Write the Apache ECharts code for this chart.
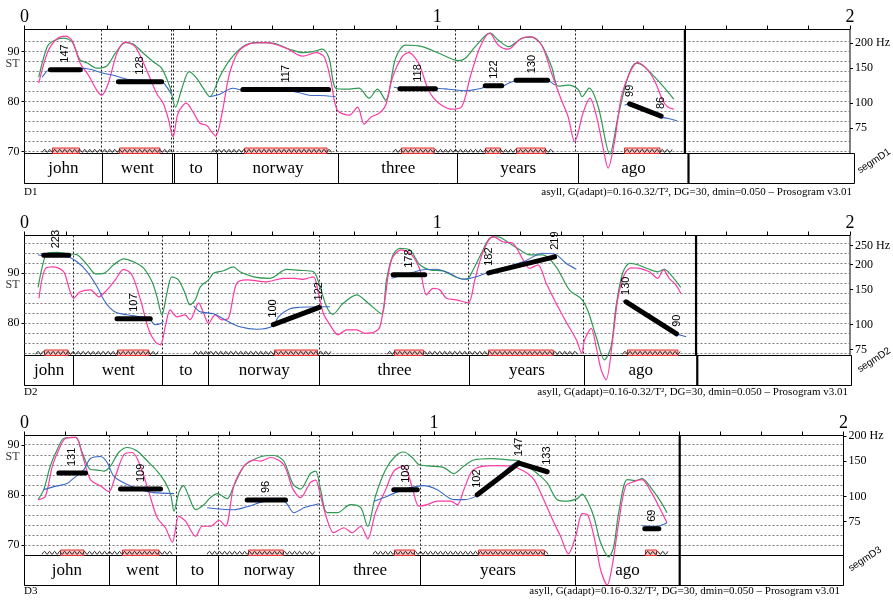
<!DOCTYPE html>
<html><head><meta charset="utf-8">
<script src="https://cdn.jsdelivr.net/npm/echarts@6/dist/echarts.min.js"></script>
<style>html,body{margin:0;padding:0;background:#fff}#c{width:893px;height:603px}</style>
</head><body><div id="c"></div>
<script>
// ---------------- DATA ----------------
const words = ['john','went','to','norway','three','years','ago'];
const timeTicks = ['0','1','2'];

const p1WordStart = [0, 0.1875, 0.362, 0.465, 0.757, 1.044, 1.335];
const p1WordEnd   = [0.1875, 0.356, 0.465, 0.757, 1.044, 1.335, 1.6];
const p2WordStart = [0, 0.119, 0.3345, 0.4457, 0.714, 1.076, 1.354];
const p2WordEnd   = [0.119, 0.3345, 0.4457, 0.714, 1.076, 1.354, 1.627];
const p3WordStart = [0, 0.207, 0.370, 0.4745, 0.721, 0.967, 1.3455];
const p3WordEnd   = [0.207, 0.370, 0.4745, 0.721, 0.967, 1.3455, 1.6];
const signalEnd = [1.6, 1.627, 1.6];

const p1GridST = [70,72,74,76,78,80,82,84,86,88,90,92];
const p2GridST = [74,76,78,80,82,84,86,88,90,92,94,96];
const p3GridST = [70,72,74,76,78,80,82,84,86,88,90];
const p1LeftTicks = [70,80,90];
const p2LeftTicks = [80,90];
const p3LeftTicks = [70,80,90];
const p1HzTicks = [75,100,150,200];
const p2HzTicks = [75,100,150,200,250];
const p3HzTicks = [75,100,150,200];

const p1Nuclei = [[.067,.132],[.23,.328],[.533,.733],[.914,.993],[1.118,1.154],[1.193,1.263],[1.454,1.54]];
const p1Voiced = [[.043,.36],[.453,.749],[.893,1.281],[1.454,1.575]];
const p2Nuclei = [[.049,.106],[.226,.302],[.605,.709],[.896,.966],[1.125,1.282],[1.46,1.582]];
const p2Voiced = [[.027,.329],[.409,.744],[.879,1.34],[1.449,1.594]];
const p3Nuclei = [[.088,.145],[.239,.328],[.548,.633],[.904,.953],[1.109,1.27],[1.516,1.543]];
const p3Voiced = [[.043,.362],[.446,.711],[.851,1.28],[1.516,1.571]];

// stylized pitch: [tStart, tEnd, HzStart, HzEnd, labels]
const p1Styl = [[.0627,.1351,147,147,'c'],[.2275,.3322,128,128,'c'],[.529,.7366,117,117,'c'],[.9095,.9956,118,118,'c'],[1.1163,1.1563,122,122,'c'],[1.191,1.2673,130,130,'c'],[1.4661,1.5423,99,86,'se']];
const p2Styl = [[.0467,.1071,223,223,'c'],[.2242,.3047,107,107,'c'],[.6029,.7141,100,122,'se'],[.8931,.9698,178,178,'c'],[1.1245,1.2842,182,219,'se'],[1.4576,1.5799,130,90,'se']];
const p3Styl = [[.0838,.149,131,131,'c'],[.2344,.3321,109,109,'c'],[.5438,.6374,96,96,'c'],[.9018,.959,108,108,'c'],[1.1055,1.2071,102,147,'se'],[1.2071,1.2764,147,133,'e'],[1.5148,1.549,69,69,'c']];

const GAP = ['-','-'];
const p1Green = [[.0345,84.9],[.055,91.0],[.071,92.2],[.095,92.7],[.115,92.0],[.135,88.3],[.151,87.8],[.175,86.7],[.2,87.2],[.22,89.7],[.244,91.8],[.264,91.5],[.288,89.7],[.312,88.0],[.332,86.7],[.352,83.0],[.366,78.9],[.38,82.3],[.399,86.0],[.417,84.7],[.433,82.7],[.449,81.0],[.473,85.0],[.497,88.3],[.529,91.0],[.561,91.8],[.601,91.7],[.642,90.5],[.674,89.8],[.698,90.0],[.722,90.5],[.738,88.7],[.754,82.7],[.782,82.5],[.81,82.7],[.835,80.7],[.855,82.5],[.875,80.3],[.899,88.7],[.923,91.3],[.963,91.0],[1.004,89.7],[1.052,88.2],[1.068,88.7],[1.092,91.0],[1.128,93.7],[1.148,92.3],[1.173,91.0],[1.205,92.7],[1.229,92.9],[1.253,91.3],[1.277,87.0],[1.293,83.1],[1.317,83.3],[1.341,82.5],[1.351,81.0],[1.368,82.7],[1.39,79.0],[1.418,69.5],[1.438,77.0],[1.462,85.0],[1.482,87.7],[1.502,87.0],[1.526,85.0],[1.551,82.7],[1.573,80.5]];
const p1Pink = [[.0345,83.7],[.055,89.7],[.075,92.3],[.099,93.1],[.115,92.3],[.135,87.7],[.155,85.3],[.175,82.3],[.187,81.3],[.203,83.7],[.224,89.7],[.244,91.9],[.268,91.0],[.296,86.3],[.32,81.7],[.336,79.7],[.348,76.7],[.36,73.0],[.372,77.7],[.392,79.7],[.408,78.0],[.425,75.7],[.441,75.3],[.453,74.0],[.463,73.1],[.477,77.0],[.497,85.7],[.521,90.3],[.553,91.7],[.586,91.8],[.634,90.7],[.674,89.1],[.706,89.8],[.726,89.0],[.742,84.3],[.758,78.3],[.787,77.3],[.807,78.9],[.823,75.5],[.839,76.9],[.859,77.7],[.875,79.3],[.891,84.7],[.915,89.0],[.931,89.8],[.955,87.7],[.979,82.3],[1.004,79.7],[1.036,78.5],[1.06,79.1],[1.08,85.0],[1.104,91.0],[1.127,93.7],[1.148,91.3],[1.172,90.5],[1.201,92.5],[1.225,93.0],[1.253,91.3],[1.277,85.7],[1.301,80.3],[1.317,77.0],[1.333,72.0],[1.341,73.7],[1.353,77.7],[1.37,80.7],[1.386,77.0],[1.402,70.7],[1.414,66.7],[1.43,72.3],[1.446,81.0],[1.466,85.7],[1.485,87.8],[1.506,86.7],[1.526,84.3],[1.546,80.3],[1.558,79.0],[1.573,78.5]];
const p1Blue = [[.0427,84.9],[.063,86.5],[.135,86.7],[.159,86.5],[.191,85.7],[.215,85.3],[.248,84.5],[.332,84.1],[.344,83.0],[.356,81.5],GAP,[.449,81.0],[.473,81.5],[.505,82.7],[.529,82.3],[.642,82.2],[.666,81.8],[.69,81.3],[.73,81.2],[.754,81.0],GAP,[.895,82.9],[.915,82.7],[.996,82.7],[1.028,82.5],[1.068,82.2],[1.108,82.7],[1.116,83.1],[1.157,83.1],[1.173,83.7],[1.197,84.3],[1.265,84.3],[1.285,83.3],GAP,[1.454,79.3],[1.466,79.7],[1.542,76.9],[1.558,76.7],[1.581,76.2]];

const p2Green = [[.033,87.2],[.043,91.3],[.055,94.0],[.079,94.2],[.103,93.9],[.127,93.7],[.152,91.7],[.172,89.9],[.192,90.0],[.216,91.7],[.24,92.9],[.264,92.3],[.289,91.0],[.309,88.3],[.321,85.3],[.333,81.7],[.345,86.0],[.357,89.3],[.373,88.7],[.389,86.0],[.401,83.7],[.414,84.7],[.426,87.3],[.446,88.7],[.458,90.0],[.482,90.5],[.506,91.3],[.522,90.3],[.555,89.3],[.595,89.0],[.635,90.8],[.667,90.6],[.7,90.3],[.716,87.3],[.732,83.3],[.747,81.8],[.772,84.0],[.805,85.7],[.833,84.0],[.865,81.9],[.877,88.7],[.893,93.7],[.909,95.0],[.933,94.7],[.958,91.7],[.982,90.7],[1.014,90.5],[1.046,89.2],[1.071,88.8],[1.087,90.7],[1.107,94.0],[1.127,97.0],[1.147,97.3],[1.175,96.0],[1.2,94.7],[1.224,93.7],[1.256,93.7],[1.288,91.3],[1.32,86.7],[1.35,84.8],[1.365,82.5],[1.385,77.3],[1.405,72.7],[1.421,75.3],[1.433,83.3],[1.449,90.0],[1.466,92.0],[1.486,91.7],[1.51,90.9],[1.534,90.3],[1.55,90.8],[1.566,89.7],[1.59,87.2]];
const p2Pink = [[.035,85.0],[.051,91.0],[.071,91.3],[.095,90.3],[.107,87.3],[.119,85.0],[.135,86.3],[.16,86.7],[.18,85.3],[.2,86.7],[.22,88.7],[.24,90.8],[.26,89.7],[.281,84.7],[.301,78.7],[.317,76.3],[.329,75.7],[.341,79.3],[.353,82.7],[.369,81.3],[.389,81.7],[.401,80.7],[.422,84.1],[.434,82.0],[.446,80.0],[.462,81.7],[.478,80.7],[.494,81.0],[.514,88.0],[.539,88.7],[.587,88.3],[.627,89.0],[.655,89.0],[.675,88.8],[.70,89.3],[.712,86.0],[.724,82.0],[.74,79.7],[.76,77.7],[.78,78.7],[.805,78.7],[.825,78.0],[.849,78.3],[.861,79.3],[.873,84.7],[.889,92.7],[.913,94.7],[.938,93.7],[.958,90.7],[.974,85.7],[.99,87.0],[1.006,86.7],[1.022,85.0],[1.046,84.7],[1.075,84.1],[1.091,88.7],[1.111,94.3],[1.135,97.4],[1.159,96.3],[1.183,96.0],[1.208,92.7],[1.224,91.0],[1.244,91.7],[1.264,88.0],[1.288,84.0],[1.312,80.3],[1.337,76.7],[1.35,74.0],[1.357,76.7],[1.373,79.0],[1.385,75.3],[1.397,70.7],[1.409,68.7],[1.425,76.7],[1.437,84.7],[1.453,89.7],[1.469,91.1],[1.49,91.0],[1.514,90.3],[1.534,89.0],[1.548,90.7],[1.562,89.0],[1.578,87.7],[1.59,86.0]];
const p2Blue = [[.033,93.7],[.047,93.5],[.103,93.3],[.127,92.3],[.152,90.3],[.176,87.3],[.192,84.7],[.208,83.0],[.224,82.1],[.248,81.7],[.301,80.9],[.317,79.7],[.329,79.9],[.337,80.5],GAP,[.41,83.5],[.426,82.3],[.458,81.9],[.49,80.5],[.522,79.3],[.563,78.8],[.603,79.5],[.615,81.3],[.643,82.9],[.667,83.2],[.716,83.3],[.74,83.3],GAP,[.889,89.0],[.933,90.0],[.966,90.7],[.998,90.8],[1.03,90.0],[1.062,88.8],[1.095,89.3],[1.127,90.3],[1.208,92.3],[1.256,94.0],[1.288,93.7],[1.312,92.0],[1.337,90.8],GAP,[1.449,84.5],[1.482,83.0],[1.546,80.0],[1.578,78.0],[1.603,77.3]];

const p3Green = [[.033,79.1],[.047,81.1],[.063,85.8],[.08,89.1],[.096,91.3],[.125,91.5],[.141,88.5],[.161,85.1],[.178,85.0],[.194,84.8],[.21,85.8],[.23,88.5],[.251,89.5],[.275,88.8],[.30,86.8],[.324,84.8],[.344,82.5],[.357,80.1],[.365,76.8],[.377,80.5],[.388,81.9],[.401,79.8],[.418,77.1],[.438,78.1],[.454,79.5],[.471,80.3],[.495,79.3],[.511,81.8],[.536,85.8],[.56,87.1],[.584,87.8],[.609,87.9],[.633,86.8],[.655,82.3],[.674,81.2],[.698,84.3],[.711,84.8],[.723,81.1],[.739,76.5],[.764,76.5],[.796,78.1],[.821,77.5],[.838,73.8],[.857,79.8],[.882,85.1],[.906,87.8],[.926,88.6],[.947,87.5],[.963,86.1],[.991,85.8],[1.024,85.5],[1.048,84.3],[1.073,85.8],[1.097,87.0],[1.138,87.3],[1.187,87.0],[1.207,86.8],[1.228,85.8],[1.252,84.3],[1.276,82.5],[1.301,79.1],[1.325,78.8],[1.35,79.3],[1.362,80.2],[1.376,78.6],[1.39,75.8],[1.407,70.5],[1.427,67.7],[1.439,69.8],[1.451,76.5],[1.472,83.1],[1.492,82.9],[1.508,83.3],[1.533,81.1],[1.553,78.8],[1.569,76.5]];
const p3Pink = [[.033,79.1],[.051,79.8],[.068,85.8],[.084,89.1],[.10,91.3],[.125,91.5],[.141,88.1],[.161,83.1],[.186,81.8],[.206,80.7],[.222,83.8],[.243,88.1],[.263,88.5],[.283,85.8],[.304,80.5],[.324,75.5],[.344,73.5],[.361,70.6],[.377,75.8],[.393,74.8],[.418,71.8],[.434,73.8],[.454,73.8],[.475,75.0],[.491,73.8],[.511,81.8],[.536,85.8],[.56,87.0],[.576,86.8],[.601,87.5],[.633,86.1],[.655,81.3],[.674,79.5],[.698,82.5],[.711,83.0],[.723,79.8],[.739,75.1],[.755,72.5],[.78,73.5],[.80,72.5],[.821,73.8],[.838,71.3],[.857,76.5],[.882,81.1],[.902,84.8],[.926,85.8],[.947,81.5],[.963,77.8],[.983,78.1],[1.008,78.8],[1.04,78.8],[1.057,78.1],[1.073,81.1],[1.093,84.8],[1.122,85.8],[1.154,85.9],[1.187,85.8],[1.219,84.8],[1.244,83.1],[1.268,79.1],[1.293,74.5],[1.309,71.8],[1.328,68.3],[1.346,71.8],[1.362,76.3],[1.376,76.0],[1.394,70.5],[1.407,65.1],[1.423,62.1],[1.435,65.8],[1.451,74.5],[1.468,81.8],[1.488,82.7],[1.508,83.1],[1.529,80.8],[1.549,77.8],[1.569,74.5]];
const p3Blue = [[.047,81.1],[.072,81.7],[.104,82.3],[.116,83.1],[.145,85.1],[.161,87.3],[.186,87.7],[.202,86.5],[.218,83.8],[.251,82.1],[.283,81.1],[.316,80.5],[.365,80.3],GAP,[.446,77.5],[.511,77.1],[.544,77.7],[.593,78.8],[.633,78.8],[.658,76.5],[.674,77.1],[.682,77.5],[.719,78.3],GAP,[.853,78.8],[.886,79.8],[.91,80.6],[.943,81.5],[.975,81.9],[1.008,81.1],[1.048,79.1],[1.073,79.1],[1.105,79.9],[1.154,83.1],[1.203,86.5],[1.236,85.8],[1.272,84.6],GAP,[1.508,73.9],[1.545,73.8],[1.569,74.5]];

// ---------------- LAYOUT / STYLE ----------------
const ST = hz => 12 * Math.log2(hz);
const SERIF = '"Liberation Serif", "DejaVu Serif", serif';
const SANS = '"Liberation Sans", Arial, sans-serif';
const C_GREEN = '#2e9a52', C_PINK = '#ff3aa6', C_BLUE = '#3a68c8';

const panels = [
  {top:29.5, pitchH:124, tierH:30, left:24.5, width:830, stMin:69.64, stMax:94.44,
   ws:p1WordStart, we:p1WordEnd, end:signalEnd[0], grid:p1GridST, lt:p1LeftTicks, hz:p1HzTicks,
   nuc:p1Nuclei, voi:p1Voiced, styl:p1Styl, green:p1Green, pink:p1Pink, blue:p1Blue,
   name:'D1', seg:'segmD1', footTop:187, footRight:41, segX:874, segY:161},
  {top:235.5, pitchH:120, tierH:30, left:24.5, width:827, stMin:73.56, stMax:97.56,
   ws:p2WordStart, we:p2WordEnd, end:signalEnd[1], grid:p2GridST, lt:p2LeftTicks, hz:p2HzTicks,
   nuc:p2Nuclei, voi:p2Voiced, styl:p2Styl, green:p2Green, pink:p2Pink, blue:p2Blue,
   name:'D2', seg:'segmD2', footTop:387, footRight:45, segX:874, segY:360},
  {top:435.5, pitchH:120, tierH:30, left:24.5, width:819, stMin:67.97, stMax:91.89,
   ws:p3WordStart, we:p3WordEnd, end:signalEnd[2], grid:p3GridST, lt:p3LeftTicks, hz:p3HzTicks,
   nuc:p3Nuclei, voi:p3Voiced, styl:p3Styl, green:p3Green, pink:p3Pink, blue:p3Blue,
   name:'D3', seg:'segmD3', footTop:586, footRight:53, segX:865, segY:559}
];

const crisp = v => Math.round(v - 0.5) + 0.5;
const grids = [], xAxes = [], yAxes = [], series = [], titles = [], graphics = [];

panels.forEach((p, i) => {
  const gP = 2*i, gT = 2*i+1, yL = 3*i, yR = 3*i+1, yT = 3*i+2;
  grids.push({left:p.left, top:p.top, width:p.width, height:p.pitchH, show:true, borderColor:'#000', borderWidth:1, backgroundColor:'transparent'});
  grids.push({left:p.left, top:p.top+p.pitchH, width:p.width, height:p.tierH, show:true, borderColor:'#000', borderWidth:1, backgroundColor:'transparent'});
  xAxes.push({gridIndex:gP, type:'value', min:0, max:2, interval:0.1, position:'top',
    axisLine:{show:false}, splitLine:{show:false},
    axisTick:{show:true, inside:false, length:4, lineStyle:{color:'#000'}},
    axisLabel:{show:true, margin:3, color:'#000', fontFamily:SERIF, fontSize:18,
      formatter: v => { const r = Math.round(v); return Math.abs(v - r) < 1e-6 ? timeTicks[r] : ''; }}});
  xAxes.push({gridIndex:gT, type:'value', min:0, max:2, show:false});
  yAxes.push({gridIndex:gP, type:'value', min:p.stMin, max:p.stMax, position:'left',
    axisLine:{show:false}, splitLine:{show:false},
    axisTick:{show:true, length:3, customValues:p.lt, lineStyle:{color:'#000'}},
    axisLabel:{customValues:p.lt, margin:5, color:'#000', fontFamily:SERIF, fontSize:12}});
  const hzST = p.hz.map(ST);
  const topHz = p.hz[p.hz.length-1];
  yAxes.push({gridIndex:gP, type:'value', min:p.stMin, max:p.stMax, position:'right',
    axisLine:{show:false}, splitLine:{show:false},
    axisTick:{show:true, length:3, customValues:hzST, lineStyle:{color:'#000'}},
    axisLabel:{customValues:hzST, margin:5, color:'#000', fontFamily:SERIF, fontSize:12,
      formatter: v => { const h = Math.round(Math.pow(2, v/12)); return h === topHz ? h + ' Hz' : String(h); }}});
  yAxes.push({gridIndex:gT, type:'value', min:0, max:1, show:false});

  // horizontal dotted grid lines
  series.push({type:'custom', xAxisIndex:gP, yAxisIndex:yL, silent:true, z:1,
    data:p.grid.map(v => [0, v]),
    renderItem:(params, api) => {
      const v = p.grid[params.dataIndex];
      const a = api.coord([0, v]), b = api.coord([2, v]);
      const y = crisp(a[1]);
      return {type:'line', shape:{x1:a[0], y1:y, x2:b[0], y2:y}, style:{stroke:'#7a7a7a', lineWidth:1, lineDash:[2,2]}};
    }});
  // dotted vertical boundaries in pitch area
  const bounds = [];
  p.ws.forEach(t => { if (t > 0 && bounds.indexOf(t) < 0) bounds.push(t); });
  p.we.forEach(t => { if (t < p.end && bounds.indexOf(t) < 0) bounds.push(t); });
  series.push({type:'custom', xAxisIndex:gP, yAxisIndex:yL, silent:true, z:1,
    data:bounds.map(t => [t, p.stMin]),
    renderItem:(params, api) => {
      const t = bounds[params.dataIndex];
      const a = api.coord([t, p.stMax]), b = api.coord([t, p.stMin]);
      const x = crisp(a[0]);
      return {type:'line', shape:{x1:x, y1:a[1], x2:x, y2:b[1]}, style:{stroke:'#222', lineWidth:1, lineDash:[2,2]}};
    }});
  // syllable nuclei (red boxes)
  series.push({type:'custom', xAxisIndex:gP, yAxisIndex:yL, silent:true, z:2,
    data:p.nuc.map(d => [d[0], p.stMin]),
    renderItem:(params, api) => {
      const d = p.nuc[params.dataIndex];
      const a = api.coord([d[0], p.stMin]), b = api.coord([d[1], p.stMin]);
      return {type:'rect', shape:{x:crisp(a[0]), y:a[1]-5.5, width:b[0]-a[0], height:5.5},
        style:{fill:'#fbc2c2', stroke:'#e42a2a', lineWidth:1}};
    }});
  // voiced stretches (wavy line)
  series.push({type:'custom', xAxisIndex:gP, yAxisIndex:yL, silent:true, z:3,
    data:p.voi.map(d => [d[0], p.stMin]),
    renderItem:(params, api) => {
      const d = p.voi[params.dataIndex];
      const a = api.coord([d[0], p.stMin]), b = api.coord([d[1], p.stMin]);
      const yc = a[1] - 2.6, pts = [];
      let k = 0;
      for (let x = a[0]; x <= b[0]; x += 2.5, k++) pts.push([x, yc + (k % 2 ? -1.5 : 1.5)]);
      return {type:'polyline', shape:{points:pts, smooth:0.4}, style:{stroke:'#111', lineWidth:0.9, fill:null}};
    }});
  // curves
  series.push({type:'line', xAxisIndex:gP, yAxisIndex:yL, data:p.green, symbol:'none', smooth:0.3, clip:false, z:4,
    lineStyle:{color:C_GREEN, width:1.2}, silent:true});
  series.push({type:'line', xAxisIndex:gP, yAxisIndex:yL, data:p.pink, symbol:'none', smooth:0.3, clip:false, z:4,
    lineStyle:{color:C_PINK, width:1.2}, silent:true});
  series.push({type:'line', xAxisIndex:gP, yAxisIndex:yL, data:p.blue, symbol:'none', smooth:0.3, clip:false, z:4,
    connectNulls:false, lineStyle:{color:C_BLUE, width:1.1}, silent:true});
  // stylization
  series.push({type:'custom', xAxisIndex:gP, yAxisIndex:yL, silent:true, z:6,
    data:p.styl.map(d => [d[0], ST(d[2])]),
    renderItem:(params, api) => {
      const d = p.styl[params.dataIndex];
      const a = api.coord([d[0], ST(d[2])]), b = api.coord([d[1], ST(d[3])]);
      const ch = [{type:'line', shape:{x1:a[0], y1:a[1], x2:b[0], y2:b[1]}, style:{stroke:'#000', lineWidth:5, lineCap:'round'}}];
      const labs = [];
      if (d[4] === 'c') labs.push([(a[0]+b[0])/2, Math.min(a[1], b[1]), d[2]]);
      if (d[4] === 'se') { labs.push([a[0], a[1], d[2]]); labs.push([b[0], b[1], d[3]]); }
      if (d[4] === 'e') labs.push([b[0], b[1], d[3]]);
      labs.forEach(l => ch.push({type:'text', x:l[0], y:l[1]-7, rotation:Math.PI/2,
        style:{text:String(l[2]), font:'11px ' + SANS, fill:'#000', align:'left', verticalAlign:'middle'}}));
      return {type:'group', children:ch};
    }});
  // signal end thick line (pitch)
  series.push({type:'custom', xAxisIndex:gP, yAxisIndex:yL, silent:true, z:7,
    data:[[p.end, p.stMin]],
    renderItem:(params, api) => {
      const a = api.coord([p.end, p.stMax]), b = api.coord([p.end, p.stMin]);
      return {type:'line', shape:{x1:a[0], y1:a[1], x2:a[0], y2:b[1]}, style:{stroke:'#000', lineWidth:2.2}};
    }});
  // "ST" unit label
  series.push({type:'scatter', xAxisIndex:gP, yAxisIndex:yL, data:[[0, 90]], symbolSize:0, clip:false, silent:true,
    label:{show:true, formatter:'ST', position:'left', distance:5, offset:[0, 12], color:'#000', fontFamily:SERIF, fontSize:12}});
  // word tier
  series.push({type:'custom', xAxisIndex:gT, yAxisIndex:yT, silent:true, z:3,
    data:p.ws.map((s, k) => [s, 0.5]),
    renderItem:(params, api) => {
      const k = params.dataIndex;
      const a = api.coord([p.ws[k], 1]), b = api.coord([p.we[k], 0]);
      const xa = crisp(a[0]), xb = crisp(b[0]);
      return {type:'group', children:[
        {type:'line', shape:{x1:xa, y1:a[1], x2:xa, y2:b[1]}, style:{stroke:'#000', lineWidth:1}},
        {type:'line', shape:{x1:xb, y1:a[1], x2:xb, y2:b[1]}, style:{stroke:'#000', lineWidth:1}},
        {type:'text', x:(a[0]+b[0])/2, y:(a[1]+b[1])/2, style:{text:words[k], font:'17px ' + SERIF, fill:'#000', align:'center', verticalAlign:'middle'}}
      ]};
    }});
  series.push({type:'custom', xAxisIndex:gT, yAxisIndex:yT, silent:true, z:7,
    data:[[p.end, 0.5]],
    renderItem:(params, api) => {
      const a = api.coord([p.end, 1]), b = api.coord([p.end, 0]);
      return {type:'line', shape:{x1:a[0], y1:a[1], x2:a[0], y2:b[1]}, style:{stroke:'#000', lineWidth:2.2}};
    }});

  titles.push({text:p.name, left:24, top:p.footTop, padding:0,
    textStyle:{fontFamily:SERIF, fontSize:11, fontWeight:'normal', color:'#000'}});
  titles.push({text:'asyll, G(adapt)=0.16-0.32/T\u00B2, DG=30, dmin=0.050 \u2013 Prosogram v3.01', right:p.footRight, top:p.footTop, padding:0,
    textStyle:{fontFamily:SERIF, fontSize:11, fontWeight:'normal', color:'#000'}});
  graphics.push({type:'text', x:p.segX, y:p.segY, rotation:33*Math.PI/180,
    style:{text:p.seg, font:'10px ' + SANS, fill:'#000', align:'center', verticalAlign:'middle'}});
});

const chart = echarts.init(document.getElementById('c'), null, {renderer:'canvas'});
chart.setOption({
  animation:false,
  backgroundColor:'#fff',
  title:titles,
  grid:grids,
  xAxis:xAxes,
  yAxis:yAxes,
  series:series,
  graphic:graphics
});
</script></body></html>
